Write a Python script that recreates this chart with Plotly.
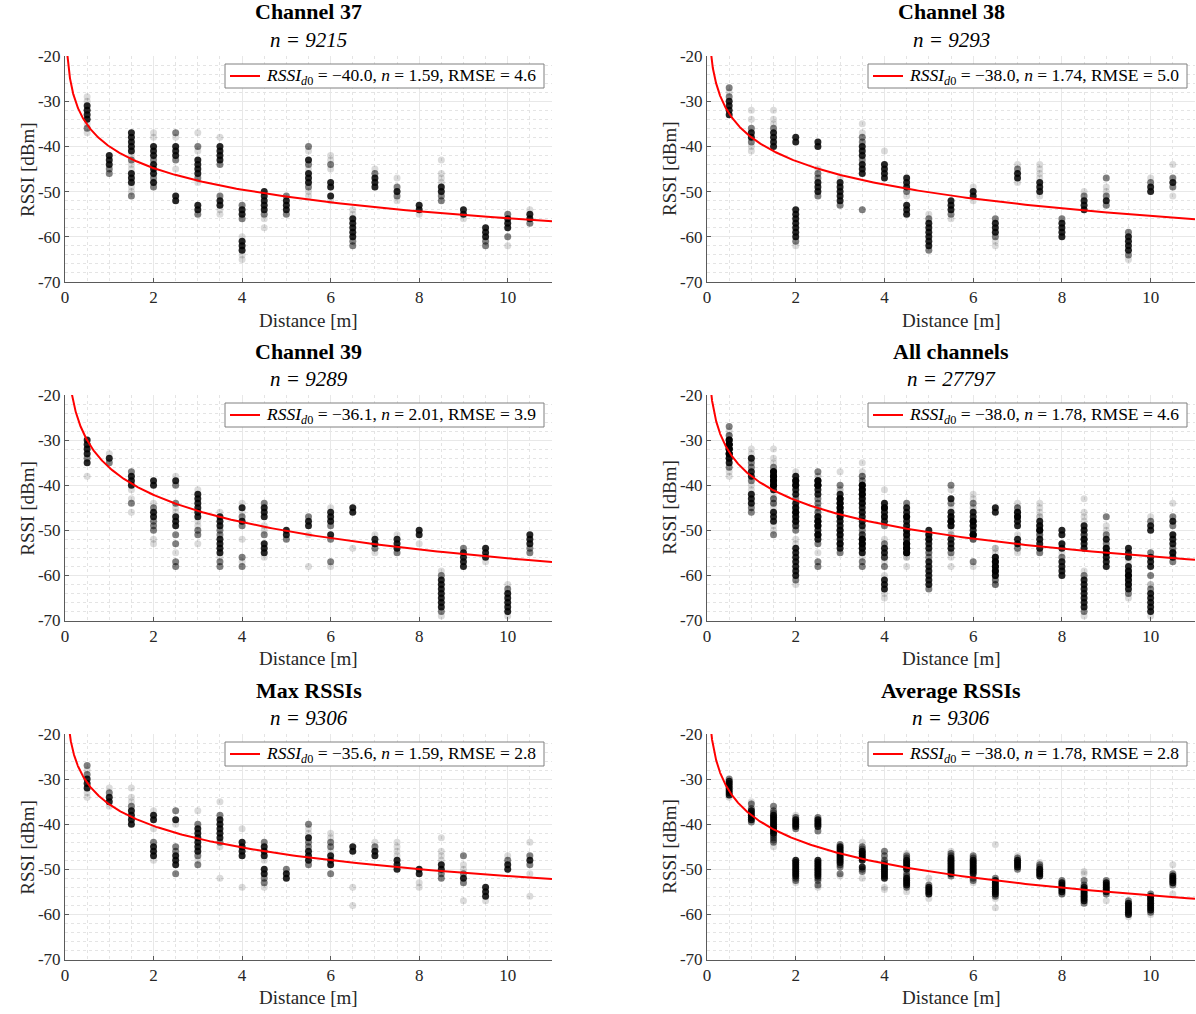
import numpy as np
import plotly.graph_objects as go

DISTANCES = [0.5, 1, 1.5, 2, 2.5, 3, 3.5, 4, 4.5, 5, 5.5, 6, 6.5, 7, 7.5, 8, 8.5, 9, 9.5, 10, 10.5]

TITLES = ["Channel 37", "Channel 38", "Channel 39", "All channels", "Max RSSIs", "Average RSSIs"]
COUNTS = [9215, 9293, 9289, 27797, 9306, 9306]
FIT_RSSI_D0 = [-40.0, -38.0, -36.1, -38.0, -35.6, -38.0]
FIT_N = [1.59, 1.74, 2.01, 1.78, 1.59, 1.78]
FIT_RMSE = [4.6, 5.0, 3.9, 4.6, 2.8, 2.8]

X_TICKS = [0, 2, 4, 6, 8, 10]
Y_TICKS = [-70, -60, -50, -40, -30, -20]

# RSSI samples per distance, grouped by how dense (dark) they appear
CH37_DARK = [
    [-31, -32, -33, -34], [-42, -43, -44], [-37, -38, -39, -40, -41, -46, -47, -48],
    [-40, -41, -42, -44, -45, -46, -48], [-40, -41, -42, -51, -52], [-43, -44, -45, -46, -53, -54],
    [-40, -41, -42, -43, -52, -53], [-54, -55, -61, -62, -63], [-50, -51, -52, -53, -54],
    [-52, -53, -54], [-43, -46, -47, -48], [-48, -49, -51], [-56, -57, -58, -59, -60],
    [-47, -48, -49], [-50], [-53, -54], [-49, -50], [-54, -55], [-58, -59, -60],
    [-56, -57, -58], [-55, -56],
]
CH37_MID = [
    [-36], [-45, -46], [-43, -51], [-43, -47, -49], [-37, -43], [-40, -47, -55], [-44, -51],
    [-53, -56], [-55], [-51, -55], [-40, -44, -49], [-44], [-61, -62], [-46], [-49, -51], [],
    [-51, -52], [], [-61, -62], [-55, -60], [-57],
]
CH37_LIGHT = [
    [-29, -30, -35, -37], [], [-42, -44, -45, -49, -50], [-37, -38], [-38, -45], [-37, -41, -48],
    [-38, -54, -55], [-60, -64, -65], [-56, -58], [], [-41, -45, -50, -51], [-42, -43, -45, -52],
    [-54, -55], [-45], [-47, -52], [-55], [-43, -46, -47, -48], [-56], [], [-62], [-54],
]

CH38_DARK = [
    [-30, -31, -32, -33], [-37, -38], [-37, -38, -39, -40],
    [-38, -39, -54, -55, -56, -57, -58, -59, -60], [-39, -40, -48, -49, -50], [-48, -49, -50, -51, -52],
    [-40, -41, -42, -44, -45, -46], [-44, -45, -46, -47], [-47, -48, -49, -53, -54, -55],
    [-57, -58, -59, -60, -61, -62], [-52, -53, -54], [-50, -51], [-57, -58, -59], [-46, -47],
    [-48, -49, -50], [-57, -58, -59, -60], [-52, -53, -54], [-52], [-60, -61, -62, -63],
    [-49, -50], [-48],
]
CH38_MID = [
    [-27, -29], [-36, -39], [-36], [-61], [-46, -47, -51], [-53], [-38, -39, -43, -54], [], [-50],
    [-56, -63], [-55], [], [-56, -60], [-45], [], [-56], [-51], [-47, -51, -53], [-59, -64], [-48],
    [-47, -49],
]
CH38_LIGHT = [
    [-28], [-32, -34, -40, -41], [-32, -34, -35], [-62], [-45], [-47], [-35, -37], [-41], [-51],
    [-55], [-56], [-49, -52], [-61, -62], [-44, -48], [-44, -45, -46, -47, -51], [], [-50],
    [-49, -50], [-65], [-47], [-44, -51],
]

CH39_DARK = [
    [-30, -31, -32, -33, -35], [-34], [-38, -39, -40], [-39, -40, -46, -47], [-39, -47, -48, -49],
    [-42, -43, -44, -45, -46, -47], [-47, -48, -49, -52, -53, -54, -55], [-45, -48],
    [-45, -46, -47, -53, -54, -55], [-50, -51], [-48, -49], [-46, -47, -48, -51], [-45, -46],
    [-52, -53], [-52, -53, -54], [-50, -51], [-61, -62, -63, -64, -65, -66, -67],
    [-55, -56, -57, -58], [-54, -55, -56], [-64, -65, -66, -67, -68], [-51, -52, -53],
]
CH39_MID = [
    [-34], [-35], [-37, -44], [-45, -48, -49, -50], [-40, -44, -51, -53, -57, -58], [-50, -51],
    [-50, -51, -57, -58], [-47, -49, -56, -58], [-44, -51], [-52], [-47], [-49, -52, -57], [],
    [-54], [-55], [], [-60, -68], [-54], [], [-63], [-54, -55],
]
CH39_LIGHT = [
    [-38], [-33], [-41, -43, -46], [-44, -52, -53], [-38, -45, -46, -55], [-41, -48, -49, -53],
    [-46, -56], [-44, -46, -52, -57], [-49, -50, -56], [], [-51, -58], [-45, -58], [-54],
    [-51, -55], [-51], [-53], [-59, -69], [], [-57], [-62, -69], [],
]

MAX_DARK = [
    [-30, -31, -32], [-34, -35], [-37, -38, -39, -40], [-38, -39, -45, -46, -47], [-39, -47, -48, -49],
    [-41, -42, -43, -44, -45, -46], [-39, -40, -41, -42, -43], [-44, -45, -46, -47],
    [-45, -46, -47, -50, -51], [-51, -52], [-43, -46, -47, -48], [-47, -48, -49], [-45, -46],
    [-46, -47], [-48, -49, -50], [-50, -51], [-49, -50], [-52], [-54, -55, -56], [-49, -50], [-48],
]
MAX_MID = [
    [-27, -29], [-33], [-36], [-44], [-37, -45, -46, -51], [-40, -47, -49], [-38, -44], [],
    [-44, -52, -53], [-50], [-40, -44, -45, -49], [-44, -45, -51], [], [-45], [], [], [-51, -52],
    [-47, -51, -53], [], [-48], [-47, -49],
]
MAX_LIGHT = [
    [-28, -33, -34], [-32, -36], [-32, -34, -35], [-37, -41, -48], [-40], [-37, -48], [-35, -45, -52],
    [-41, -54], [-48, -54], [], [-41, -42], [-42, -43, -46], [-54, -58], [-44], [-44, -45, -46, -47],
    [-53, -54], [-43, -46, -47, -48], [-49, -50, -57], [-57], [-47], [-44, -51, -56],
]

AVG_DARK = [
    [-30.5, -31, -31.5, -32, -32.5, -33, -33.5], [-37, -37.5, -38, -38.5, -39],
    [-38, -38.5, -39, -39.5, -40, -40.5, -41, -41.5, -42],
    [-39, -39.5, -40, -40.5, -48, -48.5, -49, -49.5, -50, -50.5, -51, -51.5],
    [-39, -39.5, -40, -40.5, -48, -48.5, -49, -49.5, -50, -50.5, -51, -51.5],
    [-45, -45.5, -46, -46.5, -47, -47.5, -48, -48.5], [-46, -46.5, -47, -47.5, -48, -49.5],
    [-49, -49.5, -50, -50.5, -51, -51.5, -52], [-48, -48.5, -49, -49.5, -50, -52, -52.5, -53, -53.5],
    [-54, -54.5, -55, -55.5], [-47.5, -48, -48.5, -49, -49.5, -50, -50.5, -51],
    [-48, -48.5, -49, -49.5, -50, -50.5, -51], [-52.5, -53, -53.5, -54, -54.5, -55, -55.5],
    [-48, -48.5, -49, -49.5], [-50, -50.5, -51, -51.5], [-53, -53.5, -54, -54.5, -55],
    [-54, -54.5, -55, -55.5, -56, -56.5, -57], [-53, -53.5, -54, -54.5, -55],
    [-57.5, -58, -58.5, -59, -59.5, -60], [-56, -56.5, -57, -57.5, -58, -58.5, -59],
    [-51.5, -52, -52.5, -53],
]
AVG_MID = [
    [-30], [-35.5, -36.5, -39.5], [-36, -37, -37.5, -42.5, -43, -43.5, -44], [-38.5, -41, -52, -52.5],
    [-38.5, -41.5, -52, -52.5, -53.5], [-44.5, -49, -49.5, -51], [-45, -45.5, -50, -50.5],
    [-46, -47, -48, -48.5], [-47, -47.5, -51, -51.5, -54], [-53.5], [-46.5, -47, -51.5],
    [-47, -47.5, -52, -52.5], [-52, -56], [-47.5, -50], [-49, -49.5], [-52.5, -55.5],
    [-52.5, -53.5, -57.5], [-52.5, -55.5], [-57], [-55.5, -59.5], [-51, -53.5],
]
AVG_LIGHT = [
    [-34], [-35], [-45], [-38, -53], [-54], [-51.5], [-44, -52], [-54, -54.5], [-46.5, -55],
    [-52, -56.5], [-46], [-53], [-44.5, -56.5, -58.5], [-47], [-48.5], [-55.5], [-50.5, -51],
    [-57], [-60.5], [-60], [-49, -55.5],
]

ALL_DARK = [a + b + c for a, b, c in zip(CH37_DARK, CH38_DARK, CH39_DARK)]
ALL_MID = [a + b + c for a, b, c in zip(CH37_MID, CH38_MID, CH39_MID)]
ALL_LIGHT = [a + b + c for a, b, c in zip(CH37_LIGHT, CH38_LIGHT, CH39_LIGHT)]

PANELS = [
    (CH37_DARK, CH37_MID, CH37_LIGHT),
    (CH38_DARK, CH38_MID, CH38_LIGHT),
    (CH39_DARK, CH39_MID, CH39_LIGHT),
    (ALL_DARK, ALL_MID, ALL_LIGHT),
    (MAX_DARK, MAX_MID, MAX_LIGHT),
    (AVG_DARK, AVG_MID, AVG_LIGHT),
]

SERIF = "Liberation Serif, DejaVu Serif, serif"
W, H = 1196, 1014
COL_PX = [(65, 552), (707, 1195)]
ROW_PX = [(56, 282), (395, 620.5), (734, 959.5)]
ALPHAS = [0.85, 0.5, 0.14]


def fmt(v, p):
    return f"{v:.{p}f}".replace("-", "\u2212")


def px(x):
    return x / W


def py(y):
    return 1 - y / H


fig = go.Figure()
annotations = []
shapes = []
layout = {}

for i in range(6):
    r, c = divmod(i, 2)
    x0, x1 = COL_PX[c]
    y0, y1 = ROW_PX[r]
    xa = "x" if i == 0 else f"x{i+1}"
    ya = "y" if i == 0 else f"y{i+1}"

    for groups, alpha in zip(PANELS[i], ALPHAS):
        xs, ys = [], []
        for d, vals in zip(DISTANCES, groups):
            for v in vals:
                xs.append(d)
                ys.append(v)
        fig.add_trace(go.Scatter(
            x=xs, y=ys, mode="markers", xaxis=xa, yaxis=ya, showlegend=False,
            marker=dict(size=7, color=f"rgba(0,0,0,{alpha})", line=dict(width=0)),
            hoverinfo="skip"))

    dfit = np.geomspace(0.02, 11, 400)
    rfit = FIT_RSSI_D0[i] - 10 * FIT_N[i] * np.log10(dfit)
    label = (f"<i>RSSI</i><sub><i>d</i>0</sub> = {fmt(FIT_RSSI_D0[i], 1)}, "
             f"<i>n</i> = {FIT_N[i]:.2f}, RMSE = {FIT_RMSE[i]:.1f}")
    fig.add_trace(go.Scatter(
        x=dfit, y=rfit, mode="lines", xaxis=xa, yaxis=ya, name=label,
        line=dict(color="#ff0000", width=2), showlegend=False, hoverinfo="skip"))

    axis_common = dict(
        showline=True, linecolor="#5a5a5a", linewidth=1, mirror=False,
        ticks="inside", ticklen=4, tickcolor="#5a5a5a",
        showgrid=True, gridcolor="#e8e8e8", gridwidth=1, zeroline=False,
        tickfont=dict(family=SERIF, size=17, color="#262626"), automargin=False,
    )
    layout["xaxis" if i == 0 else f"xaxis{i+1}"] = dict(
        axis_common, domain=[px(x0), px(x1)], range=[0, 11], anchor=ya,
        tickvals=X_TICKS, ticktext=[str(t) for t in X_TICKS],
        minor=dict(dtick=0.5, showgrid=True, gridcolor="#e4e4e4", griddash="dot", gridwidth=1, ticks=""),
    )
    layout["yaxis" if i == 0 else f"yaxis{i+1}"] = dict(
        axis_common, domain=[py(y1), py(y0)], range=[-70, -20], anchor=xa,
        tickvals=Y_TICKS, ticktext=[str(t) for t in Y_TICKS],
        minor=dict(dtick=2, showgrid=True, gridcolor="#e4e4e4", griddash="dot", gridwidth=1, ticks=""),
    )

    # legend box (drawn as shapes + text so its size matches the original)
    bx1 = x1 - 8
    bx0 = x1 - 327
    by0 = y0 + 8
    by1 = y0 + 32
    ym = (by0 + by1) / 2
    shapes.append(dict(type="rect", xref="paper", yref="paper",
                       x0=px(bx0), x1=px(bx1), y0=py(by1), y1=py(by0),
                       line=dict(color="#808080", width=1), fillcolor="white", layer="above"))
    shapes.append(dict(type="line", xref="paper", yref="paper",
                       x0=px(bx0 + 5), x1=px(bx0 + 35), y0=py(ym), y1=py(ym),
                       line=dict(color="#ff0000", width=2), layer="above"))
    annotations.append(dict(
        text=label, x=px(bx0 + 39), y=py(ym + 0.5), xref="paper", yref="paper",
        showarrow=False, xanchor="left", yanchor="middle",
        font=dict(family=SERIF, size=17.5, color="#000")))

    cx = px((x0 + x1) / 2)
    annotations.append(dict(
        text=f"<b>{TITLES[i]}</b>", x=cx, y=py(y0 - 44), xref="paper", yref="paper",
        showarrow=False, xanchor="center", yanchor="middle",
        font=dict(family=SERIF, size=22, color="#000")))
    annotations.append(dict(
        text=f"<i>n = {COUNTS[i]}</i>", x=cx, y=py(y0 - 16), xref="paper", yref="paper",
        showarrow=False, xanchor="center", yanchor="middle",
        font=dict(family=SERIF, size=21, color="#000")))
    annotations.append(dict(
        text="Distance [m]", x=cx, y=py(y1 + 38), xref="paper", yref="paper",
        showarrow=False, xanchor="center", yanchor="middle",
        font=dict(family=SERIF, size=19, color="#262626")))
    annotations.append(dict(
        text="RSSI [dBm]", x=px(x0 - 37), y=py((y0 + y1) / 2), xref="paper", yref="paper",
        showarrow=False, xanchor="center", yanchor="middle", textangle=-90,
        font=dict(family=SERIF, size=19, color="#262626")))

fig.update_layout(
    width=W, height=H, margin=dict(l=0, r=0, t=0, b=0, autoexpand=False),
    paper_bgcolor="white", plot_bgcolor="white", showlegend=False,
    annotations=annotations, shapes=shapes, **layout,
)

fig.write_html(
    "out.html",
    config={"displayModeBar": False, "staticPlot": True},
    post_script="document.body.style.margin='0px';document.body.style.padding='0px';"
                "document.body.style.overflow='hidden';",
)
